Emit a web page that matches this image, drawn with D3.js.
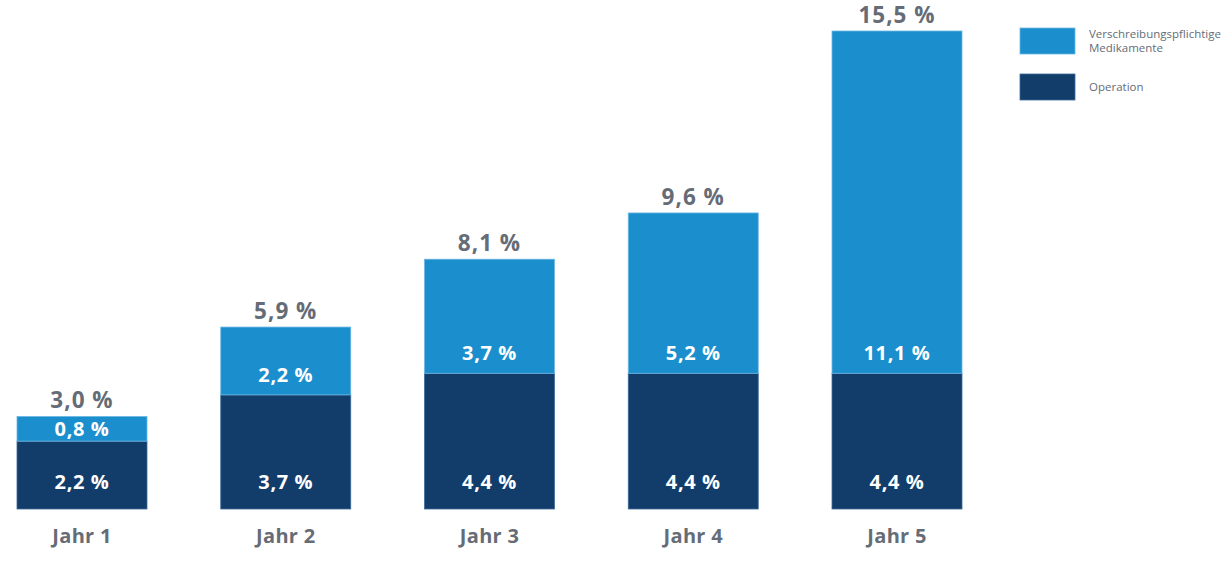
<!DOCTYPE html>
<html><head><meta charset="utf-8">
<script src="https://cdn.jsdelivr.net/npm/d3@7"></script>
<style>body{margin:0;background:#fff}svg{display:block;font-family:"Open Sans","Noto Sans",sans-serif}</style>
</head><body><svg id="c" width="1229" height="563"></svg>
<script>
const categories = ["Jahr 1","Jahr 2","Jahr 3","Jahr 4","Jahr 5"];
const operation = [2.2, 3.7, 4.4, 4.4, 4.4];
const medikamente = [0.8, 2.2, 3.7, 5.2, 11.1];
const totals = [3.0, 5.9, 8.1, 9.6, 15.5];
const seriesNames = ["Verschreibungspflichtige Medikamente", "Operation"];

const fmt = v => d3.format(".1f")(v).replace(".", ",") + " %";
const svg = d3.select("#c");
const x = d3.scaleBand().domain(categories).range([17, 962]).paddingInner(0.362).paddingOuter(0);
const y = d3.scaleLinear().domain([0, 15.5]).range([509, 31]);
const cLight = "#1b8fcd", cDark = "#123d6b", grey = "#656c76";

const rows = categories.map((c, i) => ({c, op: operation[i], med: medikamente[i], tot: totals[i]}));
const g = svg.append("g");
g.selectAll("rect.op").data(rows).join("rect").attr("class","op")
  .attr("x", d => x(d.c)).attr("width", x.bandwidth())
  .attr("y", d => y(d.op)).attr("height", d => y(0) - y(d.op))
  .attr("fill", cDark).attr("stroke", "#3d6b99").attr("stroke-width", 0.8);
g.selectAll("rect.med").data(rows).join("rect").attr("class","med")
  .attr("x", d => x(d.c)).attr("width", x.bandwidth())
  .attr("y", d => y(d.op + d.med)).attr("height", d => y(d.op) - y(d.op + d.med))
  .attr("fill", cLight).attr("stroke", "#6cb7e3").attr("stroke-width", 0.8);

const cx = d => x(d.c) + x.bandwidth() / 2;
g.selectAll("text.opl").data(rows).join("text")
  .attr("x", cx).attr("y", d => y(0) - 27).attr("dy", "0.35em")
  .attr("text-anchor", "middle").attr("fill", "#fff").attr("font-weight", 700).attr("font-size", 20)
  .attr("letter-spacing", 0.6).text(d => fmt(d.op));
g.selectAll("text.medl").data(rows).join("text")
  .attr("x", cx).attr("y", d => Math.max(y(d.op) - 20, (y(d.op) + y(d.op + d.med)) / 2)).attr("dy", "0.35em")
  .attr("text-anchor", "middle").attr("fill", "#fff").attr("font-weight", 700).attr("font-size", 20)
  .attr("letter-spacing", 0.6).text(d => fmt(d.med));
g.selectAll("text.tot").data(rows).join("text")
  .attr("x", cx).attr("y", d => y(d.tot) - 16).attr("dy", "0.35em")
  .attr("text-anchor", "middle").attr("fill", grey).attr("font-weight", 700).attr("font-size", 22.5)
  .attr("letter-spacing", 1).text(d => fmt(d.tot));

const xAxis = d3.axisBottom(x).tickSize(0).tickPadding(0);
const ax = svg.append("g").attr("transform", "translate(0,509)").call(xAxis);
ax.select(".domain").remove();
ax.selectAll("text").attr("y", 27).attr("dy", "0.35em").attr("fill", grey)
  .attr("font-size", 20).attr("font-weight", 700).attr("letter-spacing", 0.3)
  .attr("font-family", '"Open Sans","Noto Sans",sans-serif');

const leg = svg.append("g").attr("transform", "translate(1020,28)");
leg.append("rect").attr("width", 55).attr("height", 26).attr("fill", cLight).attr("stroke", "#6cb7e3").attr("stroke-width", 0.8);
leg.append("text").attr("x", 69).attr("y", 6).attr("fill", grey).attr("font-size", 11.5).attr("dy", "0.35em").text("Verschreibungspflichtige");
leg.append("text").attr("x", 69).attr("y", 20).attr("fill", grey).attr("font-size", 11.5).attr("dy", "0.35em").text("Medikamente");
leg.append("rect").attr("y", 46).attr("width", 55).attr("height", 26).attr("fill", cDark).attr("stroke", "#3d6b99").attr("stroke-width", 0.8);
leg.append("text").attr("x", 69).attr("y", 59).attr("fill", grey).attr("font-size", 11.5).attr("dy", "0.35em").text(seriesNames[1]);
</script></body></html>
